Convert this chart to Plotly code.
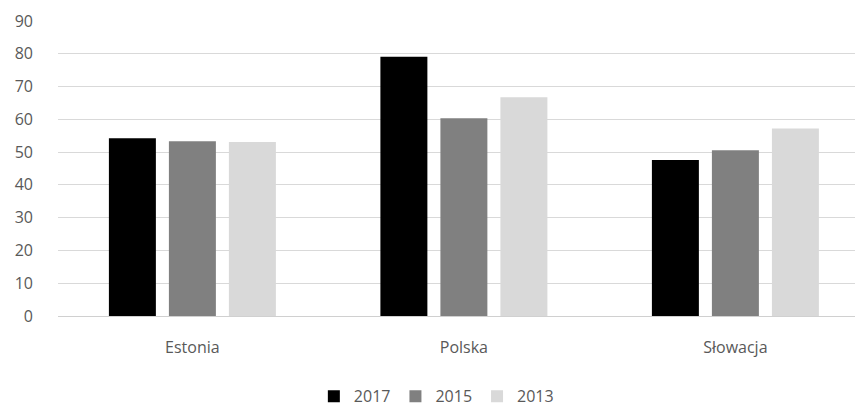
import plotly.graph_objects as go

categories = ["Estonia", "Polska", "Słowacja"]
years = ["2017", "2015", "2013"]
v2017 = [54.2, 79.1, 47.6]
v2015 = [53.3, 60.3, 50.6]
v2013 = [53.1, 66.7, 57.2]
colors = ["#000000", "#808080", "#d9d9d9"]

fig = go.Figure()
for name, vals, c in zip(years, [v2017, v2015, v2013], colors):
    fig.add_trace(go.Bar(x=categories, y=vals, name=name, marker=dict(color=c, line=dict(width=0))))

fig.update_layout(
    width=855, height=401,
    margin=dict(l=50, r=0, t=13, b=93, autoexpand=False),
    paper_bgcolor="white", plot_bgcolor="white",
    barmode="group", bargap=0.337, bargroupgap=0.217,
    font=dict(family="Open Sans, Lato, sans-serif", size=15, color="#595959"),
    legend=dict(orientation="h", x=0.47, xanchor="center", y=-0.272, yanchor="middle",
                font=dict(size=16, color="#595959"), itemwidth=30, traceorder="normal",
                tracegroupgap=0),
    showlegend=True,
)
fig.update_xaxes(range=[-0.495, 2.47], showgrid=False, showline=False, ticks="",
                 automargin=False, ticklabelstandoff=20,
                 tickfont=dict(size=16, color="#595959"))
fig.update_yaxes(range=[0, 90], dtick=10, showgrid=True, gridcolor="#d9d9d9", gridwidth=1,
                 zeroline=True, zerolinecolor="#d0d0d0", zerolinewidth=1, automargin=False,
                 ticks="", ticklabelstandoff=24, tickfont=dict(size=16, color="#595959"))

fig.write_html("out.html")
